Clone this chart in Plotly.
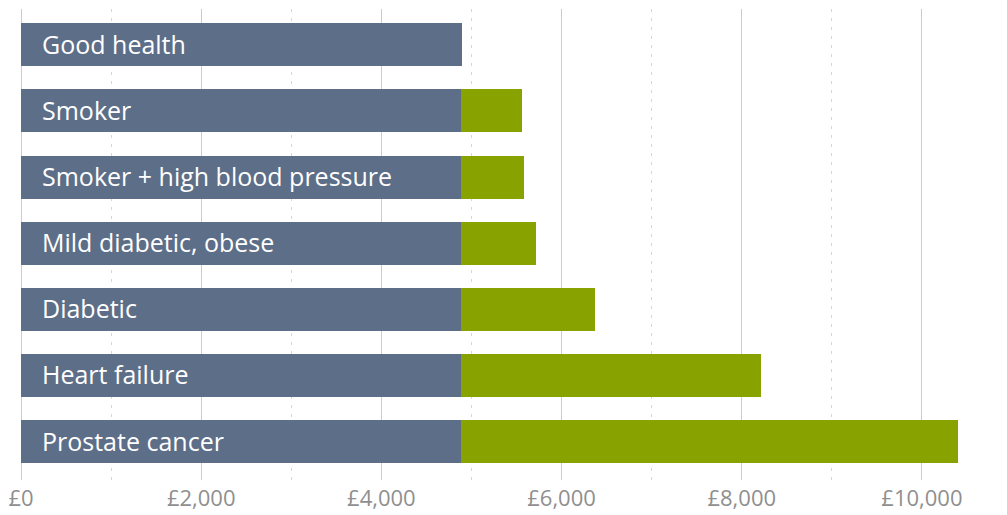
import plotly.graph_objects as go

categories = ["Good health", "Smoker", "Smoker + high blood pressure",
              "Mild diabetic, obese", "Diabetic", "Heart failure", "Prostate cancer"]
base_values = [4890, 4880, 4880, 4880, 4880, 4880, 4880]
totals = [4890, 5560, 5585, 5720, 6375, 8215, 10400]
extra_values = [t - b for t, b in zip(totals, base_values)]
extra_values[0] = 0
tick_values = [0, 2000, 4000, 6000, 8000, 10000]
tick_labels = ["£0", "£2,000", "£4,000", "£6,000", "£8,000", "£10,000"]

BLUE = "#5d6e88"
GREEN = "#88a300"
FONT = "Open Sans, Noto Sans, sans-serif"

fig = go.Figure()
fig.add_trace(go.Bar(y=categories, x=base_values, orientation="h",
                     marker=dict(color=BLUE, line=dict(width=0)), hoverinfo="skip"))
fig.add_trace(go.Bar(y=categories, x=extra_values, orientation="h",
                     marker=dict(color=GREEN, line=dict(width=0)), hoverinfo="skip"))

for c in categories:
    fig.add_annotation(x=0, y=c, text=c, showarrow=False, xanchor="left",
                       xshift=19, yshift=1,
                       font=dict(family=FONT, size=25, color="white"))

fig.update_layout(
    barmode="stack",
    bargap=0.35,
    showlegend=False,
    width=1007, height=515,
    margin=dict(l=21, r=31, t=9, b=35, autoexpand=False),
    plot_bgcolor="white", paper_bgcolor="white",
    xaxis=dict(range=[0, 10600], tickvals=tick_values, ticktext=tick_labels,
               showgrid=True, gridcolor="#d3c9c9", gridwidth=1,
               zeroline=True, zerolinecolor="#d3c9c9", zerolinewidth=1,
               showline=False, ticks="", ticklabelstandoff=3, automargin=False,
               tickfont=dict(family=FONT, size=22, color="#8f8f8f"),
               minor=dict(dtick=1000, tick0=0, showgrid=True, gridcolor="#d6d6d6",
                          griddash="3px,6px", gridwidth=1, ticks="")),
    yaxis=dict(categoryorder="array", categoryarray=categories,
               range=[6.58, -0.54], showticklabels=False, showgrid=False,
               zeroline=False, ticks="", automargin=False),
)

fig.write_html("out.html")
